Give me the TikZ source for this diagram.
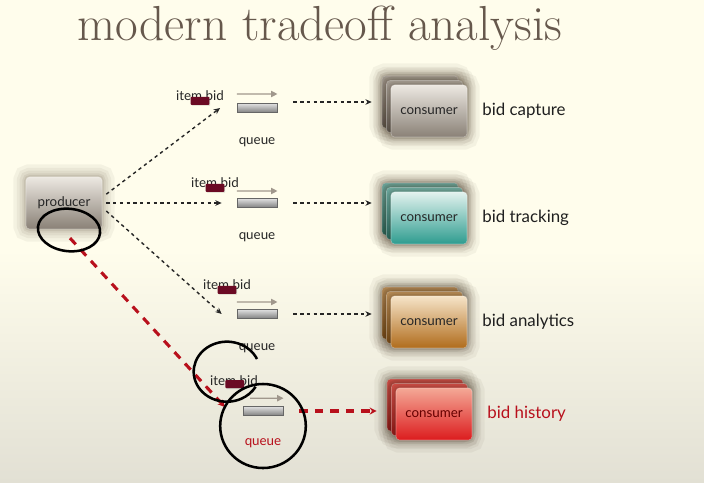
\documentclass[tikz,border=0pt]{standalone}
\usepackage{fontspec}
\newfontfamily\sansfnt{Lato}
\usetikzlibrary{positioning, arrows, arrows.meta, shapes, shapes.geometric, shadows}

\definecolor{cream}{HTML}{FFFDEC}
\definecolor{paper}{HTML}{E2E0D4}
\definecolor{titlegray}{HTML}{66584C}
\definecolor{maroon}{HTML}{6B0A24}
\definecolor{histred}{HTML}{B8101C}
\definecolor{qgray}{HTML}{A0978C}
\definecolor{haze}{HTML}{3A2A18}
\definecolor{capT}{HTML}{ECE8E1}
\definecolor{capB}{HTML}{8A8177}
\definecolor{trkT}{HTML}{E2F2EE}
\definecolor{trkB}{HTML}{2E9C8F}
\definecolor{anaT}{HTML}{F6E4C8}
\definecolor{anaB}{HTML}{B06C1C}
\definecolor{hisT}{HTML}{F4A896}
\definecolor{hisB}{HTML}{DC1C1E}

\begin{document}
\begin{tikzpicture}[x=0.025cm, y=-0.025cm,
        box/.style={rectangle, rounded corners=2.5pt, minimum width=1.9cm, minimum height=1.3cm, draw=white, draw opacity=0.35, line width=0.4pt, font=\sansfnt\fontsize{9.5}{11}\selectfont, text=black!85},
        glow/.style={preaction={draw=haze, draw opacity=0.05, line width=18pt},
                     preaction={draw=haze, draw opacity=0.05, line width=13pt},
                     preaction={draw=haze, draw opacity=0.06, line width=9pt},
                     preaction={draw=haze, draw opacity=0.07, line width=5pt},
                     preaction={draw=haze, draw opacity=0.08, line width=2.5pt}},
        capture/.style={top color=capT, bottom color=capB},
        captureback/.style={top color=capB!55!capT, bottom color=capB!70!black},
        tracking/.style={top color=trkT, bottom color=trkB},
        trackingback/.style={top color=trkB!60!trkT, bottom color=trkB!70!black},
        analytics/.style={top color=anaT, bottom color=anaB},
        analyticsback/.style={top color=anaB!60!anaT, bottom color=anaB!70!black},
        history/.style={top color=hisT, bottom color=hisB},
        historyback/.style={top color=hisB!60!hisT, bottom color=hisB!70!black},
        queue/.style={cylinder, aspect=0.5, draw=black!60, line width=0.4pt, minimum height=1cm, minimum width=0.23cm, inner sep=0pt, top color=black!12, bottom color=black!50},
        small/.style={font=\sansfnt\fontsize{9.5}{11}\selectfont, text=black!85, inner sep=0pt},
        big/.style={font=\sansfnt\fontsize{12}{14}\selectfont, text=black!88, inner sep=0pt},
        bidtag/.style={rectangle, fill=maroon, minimum width=0.47cm, minimum height=0.2cm, inner sep=0pt, rounded corners=0.6pt, drop shadow={shadow xshift=0.6pt, shadow yshift=-0.6pt, opacity=0.3}},
        qarrow/.style={draw=qgray, line width=0.8pt, -{Triangle[length=4.5pt, width=4.5pt]}},
        flow/.style={draw=black!85, line width=1pt, dash pattern=on 2.4pt off 2.4pt, -{Stealth[length=4.5pt, width=4pt]}},
        redflow/.style={draw=histred, line width=2.2pt, dash pattern=on 6pt off 5pt, -{Stealth[length=5pt, width=5pt]}},
        handring/.style={draw=black, line width=1.8pt}]

        % page
        \useasboundingbox (0,0) rectangle (704,482);
        \fill[cream] (0,0) rectangle (704,482);
        \shade[top color=cream, bottom color=paper] (0,250) rectangle (704,482);

        \node[text=titlegray, font=\fontsize{35}{40}\selectfont] (T) at (320,28) {modern tradeoff analysis};

        % producer
        \node[box, glow, capture] (P) at (64,203) {producer};

        % queues
        \node[queue] (q1) at (257,108) {};
        \node[queue] (q2) at (257,203) {};
        \node[queue] (q3) at (257,314) {};
        \node[queue] (q4) at (263,411) {};
        \node[small, below=0.62cm of q1] (ql1) {queue};
        \node[small, below=0.62cm of q2] (ql2) {queue};
        \node[small, below=0.62cm of q3] (ql3) {queue};
        \node[small, text=histred, below=0.55cm of q4] (ql4) {queue};
        \draw[qarrow] ([yshift=0.35cm]q1.west) -- ([yshift=0.35cm]q1.east);
        \draw[qarrow] ([yshift=0.3cm]q2.west) -- ([yshift=0.3cm]q2.east);
        \draw[qarrow] ([yshift=0.3cm]q3.west) -- ([yshift=0.3cm]q3.east);
        \draw[qarrow] ([xshift=0.18cm, yshift=0.32cm]q4.west) -- ([yshift=0.32cm]q4.east);

        % item bid messages
        \node[small] (i1) at (200,96) {item bid};
        \node[bidtag] (m1) at ([yshift=-0.12cm]i1.center) {};
        \node[small] (i2) at (215,183) {item bid};
        \node[bidtag] (m2) at ([yshift=-0.12cm]i2.center) {};
        \node[small] (i3) at (227,285) {item bid};
        \node[bidtag] (m3) at ([yshift=-0.12cm]i3.center) {};
        \node[small] (i4) at (234,381) {item bid};
        \node[bidtag] (m4) at ([xshift=0.02cm, yshift=-0.08cm]i4.center) {};

        % consumers
        \node[box, glow, captureback] (c1c) at (420,102) {};
        \node[box, glow, captureback] (c1b) at (424.5,106.5) {};
        \node[box, glow, capture] (c1) at (429,111) {consumer};
        \node[big, right=0.37cm of c1] (l1) {bid capture};

        \node[box, glow, trackingback] (c2c) at (420,209) {};
        \node[box, glow, trackingback] (c2b) at (424.5,213.5) {};
        \node[box, glow, tracking] (c2) at (429,218) {consumer};
        \node[big, right=0.37cm of c2] (l2) {bid tracking};

        \node[box, glow, analyticsback] (c3c) at (420,313) {};
        \node[box, glow, analyticsback] (c3b) at (424.5,317.5) {};
        \node[box, glow, analytics] (c3) at (429,322) {consumer};
        \node[big, right=0.37cm of c3] (l3) {bid analytics};

        \node[box, glow, historyback] (c4c) at (425,405) {};
        \node[box, glow, historyback] (c4b) at (429.5,409.5) {};
        \node[box, glow, history, text=red!40!black] (c4) at (434,414) {consumer};
        \node[big, text=histred, right=0.37cm of c4] (l4) {bid history};

        % flows
        \draw[flow] ([xshift=0.1cm, yshift=0.22cm]P.east) -- ([xshift=-0.42cm]q1.west);
        \draw[flow] ([xshift=0.1cm]P.east) -- ([xshift=-0.38cm]q2.west);
        \draw[flow] ([xshift=0.1cm, yshift=-0.2cm]P.east) -- ([xshift=-0.38cm]q3.west);

        \draw[flow] ([xshift=0.4cm, yshift=0.15cm]q1.east) -- ([xshift=-0.25cm, yshift=0.15cm]q1.east -| c1c.west);
        \draw[flow] ([xshift=0.4cm]q2.east) -- ([xshift=-0.25cm]q2.east -| c2c.west);
        \draw[flow] ([xshift=0.4cm]q3.east) -- ([xshift=-0.25cm]q3.east -| c3c.west);

        \draw[redflow] ([xshift=0.15cm, yshift=-0.22cm]P.south) -- ([xshift=-0.45cm, yshift=0.1cm]q4.west);
        \draw[redflow] ([xshift=0.4cm]q4.east) -- ([xshift=-0.25cm]q4.east -| c4c.west);

        % pen marks
        \draw[handring, rotate around={-6:(69,230)}] (69,230) ellipse [x radius=0.78cm, y radius=0.53cm];
        \draw[handring] (257,359) arc [start angle=25, end angle=330, x radius=0.83cm, y radius=0.75cm];
        \draw[handring] (263,426) ellipse [x radius=1.07cm, y radius=1.05cm];

    \end{tikzpicture}
\end{document}
